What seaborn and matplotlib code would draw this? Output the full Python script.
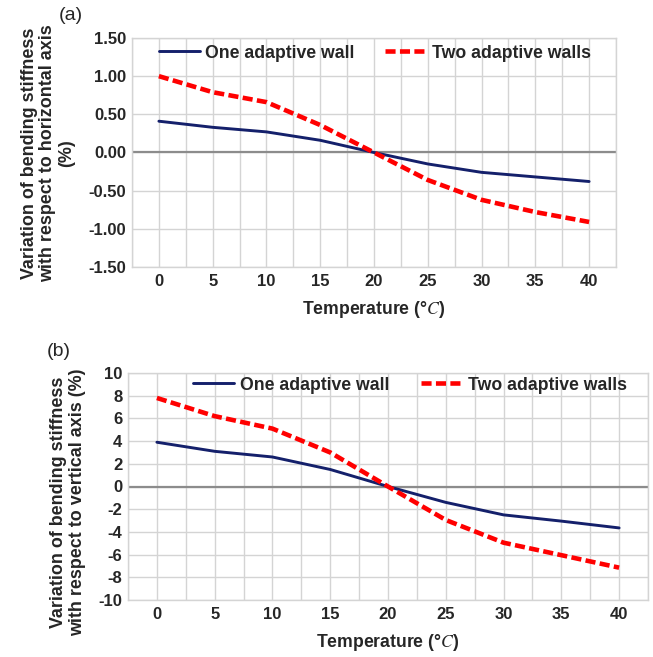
import numpy as np
import pandas as pd
import matplotlib
matplotlib.use("Agg")
import matplotlib.pyplot as plt
import seaborn as sns

temps = [0, 5, 10, 15, 20, 25, 30, 35, 40]
one_h = [0.41, 0.33, 0.27, 0.16, 0.00, -0.15, -0.26, -0.32, -0.38]
two_h = [1.00, 0.79, 0.66, 0.36, 0.00, -0.36, -0.62, -0.78, -0.91]
one_v = [3.9, 3.1, 2.6, 1.5, 0.0, -1.4, -2.5, -3.05, -3.65]
two_v = [7.8, 6.2, 5.1, 3.0, 0.0, -2.95, -4.95, -6.05, -7.15]
series_names = ["One adaptive wall", "Two adaptive walls"]
yticks_a = [1.5, 1.0, 0.5, 0.0, -0.5, -1.0, -1.5]
yticks_b = list(range(10, -11, -2))
xticks = [0, 5, 10, 15, 20, 25, 30, 35, 40]

sns.set_style("white")
plt.rcParams['font.family'] = ['Liberation Sans', 'DejaVu Sans']
plt.rcParams['mathtext.fontset'] = 'stix'

fig = plt.figure(figsize=(6.53, 6.57), dpi=100)
W, H = 653, 657

def make_ax(l, t, r, b):
    return fig.add_axes([l / W, 1 - b / H, (r - l) / W, (b - t) / H])

ax_a = make_ax(132, 38, 616, 267)
ax_b = make_ax(128, 373, 648, 600)

LW1, LW2 = 2.1, 3.3

def draw(ax, one, two, ylim, yticks, fmt, ylabel, ylabpos, tag, tagpos, legpos, colsp):
    df = pd.DataFrame({
        "T": temps * 2,
        "v": one + two,
        "s": [series_names[0]] * len(temps) + [series_names[1]] * len(temps),
    })
    sns.lineplot(data=df, x="T", y="v", hue="s", style="s",
                 palette={series_names[0]: "#14206b", series_names[1]: "#ff0000"},
                 dashes={series_names[0]: "", series_names[1]: (2.2, 0.95)},
                 ax=ax, legend=True, zorder=3)
    lines = ax.get_lines()
    lines[0].set_linewidth(LW1)
    lines[1].set_linewidth(LW2)
    ax.set_xlim(-2.5, 42.5)
    ax.set_ylim(*ylim)
    ax.set_xticks(np.arange(-2.5, 42.6, 2.5), minor=True)
    ax.set_xticks(xticks)
    ax.set_yticks(yticks)
    ax.set_yticklabels([fmt.format(v) for v in yticks])
    ax.grid(True, which='both', color='#d4d4d4', linewidth=1.0, zorder=0)
    ax.set_axisbelow(True)
    ax.axhline(0, color='#8c8c8c', linewidth=1.6, zorder=2)
    for s in ax.spines.values():
        s.set_color('#d4d4d4')
        s.set_linewidth(1.0)
    ax.tick_params(which='both', length=0, labelsize=12)
    ax.tick_params(axis='x', pad=5)
    ax.tick_params(axis='y', pad=4)
    for lab in ax.get_xticklabels() + ax.get_yticklabels():
        lab.set_fontweight('bold')
    ax.set_xlabel(r"Temperature (°$C$)", fontsize=12.7, fontweight='bold', labelpad=7)
    ax.set_ylabel("")
    fig.text(ylabpos[0] / W, 1 - ylabpos[1] / H, ylabel, rotation=90,
             fontsize=12.9, fontweight='bold', ha='center', va='center',
             linespacing=1.15, multialignment='center')
    l0, t0 = legpos
    x0, x1 = ax.get_position().x0 * W, ax.get_position().x1 * W
    y0, y1 = (1 - ax.get_position().y1) * H, (1 - ax.get_position().y0) * H
    leg = ax.legend(loc='center left', ncol=2, frameon=False, fontsize=12.7,
                    handlelength=2.35, columnspacing=colsp, handletextpad=0.3,
                    bbox_to_anchor=((l0 - x0) / (x1 - x0), (y1 - t0) / (y1 - y0)),
                    borderaxespad=0, borderpad=0)
    for t in leg.get_texts():
        t.set_fontweight('bold')
    for h, lw in zip(leg.get_lines(), [LW1, LW2]):
        h.set_linewidth(lw)
    fig.text(tagpos[0] / W, 1 - tagpos[1] / H, tag, fontsize=14, ha='left', va='center')

draw(ax_a, one_h, two_h, (-1.5, 1.5), yticks_a, "{:.2f}",
     "Variation of bending stiffness\nwith respect to horizontal axis\n(%)",
     (48, 153), "(a)", (59, 16), (158.7, 53), 1.7)
draw(ax_b, one_v, two_v, (-10, 10), yticks_b, "{:d}",
     "Variation of bending stiffness\nwith respect to vertical axis (%)",
     (68, 502), "(b)", (47, 351), (193, 385), 1.8)

fig.savefig("out.png", dpi=100)
